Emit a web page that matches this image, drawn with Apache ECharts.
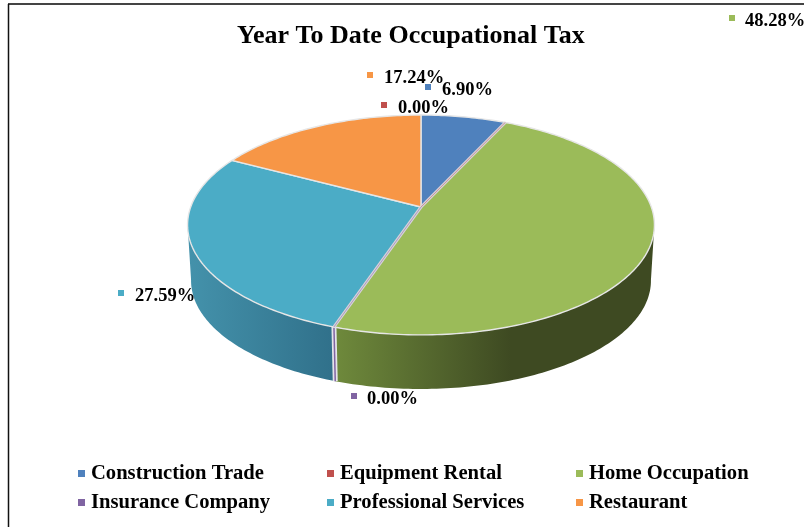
<!DOCTYPE html>
<html>
<head>
<meta charset="utf-8">
<style>
  html, body { margin: 0; padding: 0; background: #fff; }
  #chart { width: 804px; height: 527px; }
</style>
<script src="https://cdn.jsdelivr.net/npm/echarts@6/dist/echarts.min.js"></script>
</head>
<body>
<div id="chart"></div>
<script>
const categories = ['Construction Trade', 'Equipment Rental', 'Home Occupation', 'Insurance Company', 'Professional Services', 'Restaurant'];
const shares = [6.90, 0.00, 48.28, 0.00, 27.59, 17.24];
const colors = ['#4f81bd', '#c0504d', '#9bbb59', '#8064a2', '#4bacc6', '#f79646'];
const wallColors = [
  ['#3f6797', '#2f4d71'],
  ['#9a403e', '#73302e'],
  ['#6f8a3c', '#3e4a22'],
  ['#8064a2', '#8064a2'],
  ['#4492ab', '#30708a'],
  ['#c67838', '#945a2a']
];
// where each data label sits: marker x, text x, y
const labelSpots = [
  [428, 442, 89],
  [384, 398, 107],
  [732, 745, 20],
  [354, 367, 398],
  [121, 135, 295],
  [370, 384, 77]
];

const FONT = '"Liberation Serif", "Times New Roman", serif';
const total = shares.reduce((a, b) => a + b, 0);

// tilted disc, the far side is drawn a bit smaller than the near side
const pie = { cx: 421, cy: 207, rx: 230.3, ry: 107, tilt: 0.1635, depth: 56 };
const project = (deg, dy, shrink) => {
  const t = deg * Math.PI / 180;
  const x = Math.sin(t);
  const y = -Math.cos(t);
  const w = 1 - pie.tilt * y;
  return [pie.cx + shrink * pie.rx * x / w, pie.cy + dy + shrink * pie.ry * y / w];
};
const arcPoints = (from, to, dy, shrink) => {
  const n = Math.max(1, Math.ceil(Math.abs(to - from)));
  const pts = [];
  for (let i = 0; i <= n; i++) {
    pts.push(project(from + (to - from) * i / n, dy, shrink));
  }
  return pts;
};

// the wall is only visible on the near side of the disc
const WALL_FROM = 99;
const WALL_TO = 261;

let acc = 0;
const spans = shares.map(v => {
  const from = acc / total * 360;
  acc += v;
  return [from, acc / total * 360];
});

const pieSeries = categories.map((name, i) => ({
  type: 'custom',
  name: name,
  coordinateSystem: 'none',
  silent: true,
  itemStyle: { color: colors[i] },
  data: [shares[i]],
  renderItem: () => {
    const [from, to] = spans[i];
    const empty = from === to;
    const children = [];
    const a = Math.max(from, WALL_FROM);
    const b = Math.min(to, WALL_TO);
    if (b > a || (empty && from > WALL_FROM && from < WALL_TO)) {
      const top = arcPoints(a, b, 0, 1);
      const bottom = arcPoints(b, a, pie.depth, 0.985);
      if (empty) {
        children.push({
          type: 'polyline',
          z2: 3,
          shape: { points: [top[0], bottom[0]] },
          style: { fill: null, stroke: '#e4e4ea', lineWidth: 5 }
        });
        children.push({
          type: 'polyline',
          z2: 4,
          shape: { points: [top[0], bottom[0]] },
          style: { fill: null, stroke: colors[i], lineWidth: 1.5 }
        });
      } else {
        children.push({
          type: 'polygon',
          z2: 1,
          shape: { points: top.concat(bottom) },
          style: {
            fill: new echarts.graphic.LinearGradient(0, 0, 1, 0, [
              { offset: 0, color: wallColors[i][0] },
              { offset: i === 2 ? 0.55 : 1, color: wallColors[i][1] },
              { offset: 1, color: wallColors[i][1] }
            ])
          }
        });
      }
    }
    const face = [[pie.cx, pie.cy]].concat(arcPoints(from, to, 0, 1));
    if (empty) {
      children.push({
        type: 'polyline',
        z2: 6,
        shape: { points: face },
        style: { fill: null, stroke: '#d6d2da', lineWidth: 3 }
      });
      children.push({
        type: 'polyline',
        z2: 7,
        shape: { points: face },
        style: { fill: null, stroke: colors[i], lineWidth: 0.8, opacity: 0.6 }
      });
    } else {
      children.push({
        type: 'polygon',
        z2: 5,
        shape: { points: face },
        style: { fill: colors[i], stroke: '#e6e6e6', lineWidth: 1.4 }
      });
    }
    const [mx, tx, ly] = labelSpots[i];
    children.push({
      type: 'rect',
      z2: 8,
      shape: { x: mx - 3, y: ly - 5, width: 6, height: 6 },
      style: { fill: colors[i] }
    });
    children.push({
      type: 'text',
      z2: 9,
      x: tx,
      y: ly + 1,
      style: {
        text: shares[i].toFixed(2) + '%',
        font: 'bold 18.5px ' + FONT,
        fill: '#000',
        align: 'left',
        verticalAlign: 'middle'
      }
    });
    return { type: 'group', children: children };
  }
}));

const legendColumn = (names, left) => ({
  orient: 'vertical',
  left: left,
  top: 458,
  itemWidth: 7,
  itemHeight: 7,
  itemGap: 8,
  selectedMode: false,
  icon: 'rect',
  data: names,
  textStyle: { fontFamily: FONT, fontWeight: 'bold', fontSize: 20.6, color: '#000', padding: [0, 0, 0, 1] }
});

const chart = echarts.init(document.getElementById('chart'));
chart.setOption({
  animation: false,
  backgroundColor: '#fff',
  title: {
    text: 'Year To Date Occupational Tax',
    left: 232,
    top: 18,
    textStyle: { fontFamily: FONT, fontWeight: 'bold', fontSize: 26, color: '#000' }
  },
  legend: [
    legendColumn([categories[0], categories[3]], 73),
    legendColumn([categories[1], categories[4]], 322),
    legendColumn([categories[2], categories[5]], 571)
  ],
  graphic: [
    { type: 'line', shape: { x1: 8, y1: 4, x2: 804, y2: 4 }, style: { stroke: '#444', lineWidth: 2 } },
    { type: 'line', shape: { x1: 8.5, y1: 4, x2: 8.5, y2: 527 }, style: { stroke: '#111', lineWidth: 1.5 } }
  ],
  series: pieSeries
});
</script>
</body>
</html>
